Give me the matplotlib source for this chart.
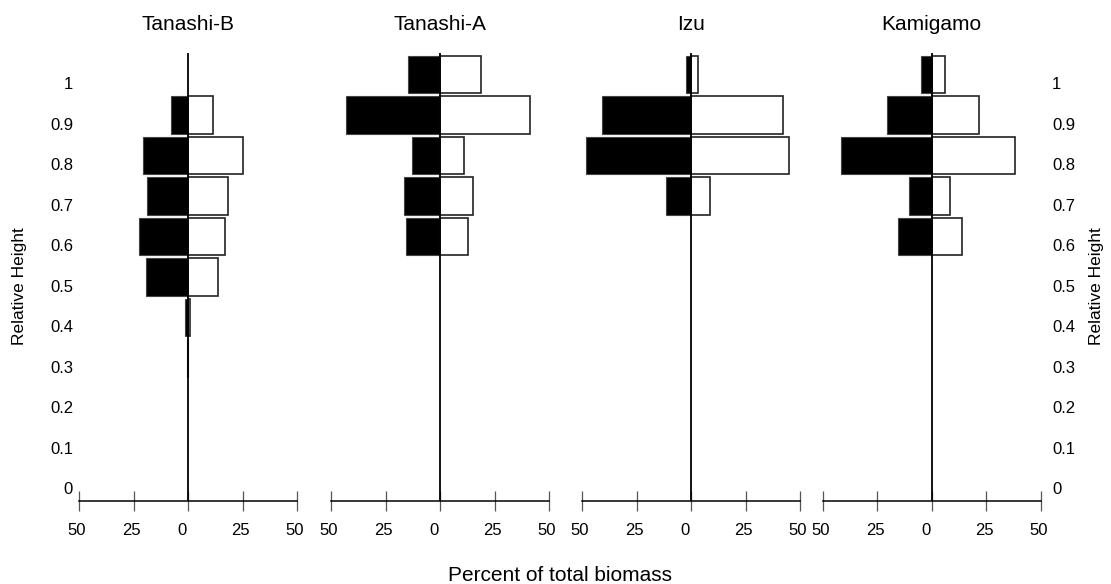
import numpy as np
import matplotlib
matplotlib.use("Agg")
import matplotlib.pyplot as plt
from matplotlib.transforms import ScaledTranslation

plt.rcParams["font.family"] = ["Liberation Sans", "DejaVu Sans"]

# Height classes (lower bound of each relative-height layer)
height_classes = [0.3, 0.4, 0.5, 0.6, 0.7, 0.8, 0.9, 1.0]

sites = ["Tanashi-B", "Tanashi-A", "Izu", "Kamigamo"]

# Percent of total biomass per height class (black bars, drawn to the left)
tanashi_b_left = [0.6, 1.4, 19.3, 22.3, 18.8, 20.5, 7.8, 0.0]
tanashi_a_left = [0.0, 0.0, 0.0, 15.7, 16.4, 13.0, 43.3, 14.8]
izu_left = [0.0, 0.0, 0.0, 0.0, 11.3, 48.2, 40.7, 2.3]
kamigamo_left = [0.0, 0.0, 0.0, 15.3, 10.3, 41.5, 20.6, 4.6]

# Percent of total biomass per height class (white bars, drawn to the right)
tanashi_b_right = [0.0, 1.0, 13.9, 17.1, 18.5, 25.4, 11.6, 0.0]
tanashi_a_right = [0.0, 0.0, 0.0, 13.0, 15.0, 11.2, 41.3, 18.8]
izu_right = [0.0, 0.0, 0.0, 0.0, 8.9, 45.0, 42.0, 3.2]
kamigamo_right = [0.0, 0.0, 0.0, 13.8, 8.3, 38.2, 21.7, 6.0]

left_values = [tanashi_b_left, tanashi_a_left, izu_left, kamigamo_left]
right_values = [tanashi_b_right, tanashi_a_right, izu_right, kamigamo_right]

x_ticks = [-50, -25, 0, 25, 50]
x_tick_labels = ["50", "25", "0", "25", "50"]
y_label_values = [0, 0.1, 0.2, 0.3, 0.4, 0.5, 0.6, 0.7, 0.8, 0.9, 1.0]
y_label_texts = ["0", "0.1", "0.2", "0.3", "0.4", "0.5", "0.6", "0.7", "0.8", "0.9", "1"]

W, H = 1111, 584
fig = plt.figure(figsize=(W / 100, H / 100), dpi=100)

panel_px = [(79, 297), (331, 549), (582, 800), (822.5, 1040.5)]
ax_top_px, ax_bot_px = 50, 520
zero_px = 500.7
px_per_unit = 405.0
ylo = -(ax_bot_px - zero_px) / px_per_unit
yhi = (zero_px - ax_top_px) / px_per_unit

bar_h = 0.093
bar_off = 0.0525
label_off = 0.031

axes = []
for i, (x0, x1) in enumerate(panel_px):
    ax = fig.add_axes([x0 / W, (H - ax_bot_px) / H, (x1 - x0) / W,
                       (ax_bot_px - ax_top_px) / H])
    axes.append(ax)
    ax.set_xlim(-50, 50)
    ax.set_ylim(ylo, yhi)
    yc = np.array(height_classes) + bar_off
    lv = np.array(left_values[i])
    rv = np.array(right_values[i])
    ax.barh(yc[lv > 0], -lv[lv > 0], height=bar_h, color="black",
            edgecolor="#444444", linewidth=0.8, zorder=2)
    ax.barh(yc[rv > 0], rv[rv > 0], height=bar_h, color="white",
            edgecolor="#222222", linewidth=1.2, zorder=2)
    ax.plot([0, 0], [0, 1.105], color="black", lw=1.3, zorder=3,
            solid_capstyle="butt")

    for side in ["left", "right", "top"]:
        ax.spines[side].set_visible(False)
    ax.spines["bottom"].set_position(("data", 0))
    ax.spines["bottom"].set_bounds(-50, 50)
    ax.spines["bottom"].set_linewidth(1.1)
    ax.set_xticks(x_ticks)
    ax.set_xticklabels(x_tick_labels)
    ax.tick_params(axis="x", direction="inout", length=14.4, width=0.9,
                   color="#555555", pad=9, labelsize=12)
    for lab, t in zip(ax.get_xticklabels(), x_ticks):
        dx = -6 if t == 0 else -2
        lab.set_transform(lab.get_transform()
                          + ScaledTranslation(dx / 100, 0, fig.dpi_scale_trans))
    ax.set_facecolor("none")

    if i == 0:
        ax.set_yticks(np.array(y_label_values) + label_off)
        ax.set_yticklabels(y_label_texts)
        ax.tick_params(axis="y", length=0, pad=4.3, labelsize=12)
    elif i == len(panel_px) - 1:
        ax.yaxis.tick_right()
        ax.set_yticks(np.array(y_label_values) + label_off)
        ax.set_yticklabels(y_label_texts)
        ax.tick_params(axis="y", length=0, pad=8.3, labelsize=12)
    else:
        ax.set_yticks([])

    zx = (x0 + x1) / 2
    fig.text(zx / W, 1 - 30 / H, sites[i], ha="center", va="baseline",
             fontsize=15)

fig.text(560 / W, 1 - 581 / H, "Percent of total biomass", ha="center",
         va="baseline", fontsize=15)
fig.text(20 / W, 1 - 286 / H, "Relative Height", ha="center", va="center",
         rotation=90, fontsize=12.5)
fig.text(1096 / W, 1 - 286 / H, "Relative Height", ha="center", va="center",
         rotation=90, fontsize=12.5)

fig.savefig("out.png", dpi=100)
